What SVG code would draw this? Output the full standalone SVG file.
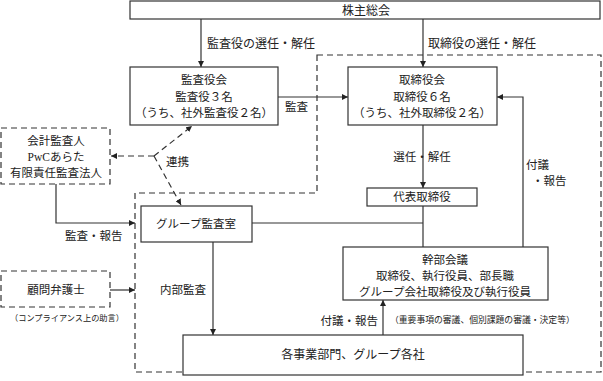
<svg xmlns="http://www.w3.org/2000/svg" width="603" height="381" viewBox="0 0 603 381">
<style>
.box{fill:#fff;stroke:#333;stroke-width:1.2}
.dbox{fill:#fff;stroke:#333;stroke-width:1.2;stroke-dasharray:6,4}
.ln{fill:none;stroke:#333;stroke-width:1.2}
.dl{fill:none;stroke:#333;stroke-width:1.2;stroke-dasharray:6,4}
text{font-family:"Liberation Serif","Noto Sans CJK JP",serif;font-size:11.5px;fill:#222}
.c{text-anchor:middle}
.s{font-size:8.8px}
.s2{font-size:8.2px}
.t{font-size:12px}
</style>
<defs>
<marker id="ah" viewBox="0 0 10 10" refX="10" refY="5" markerWidth="6" markerHeight="6" orient="auto" markerUnits="userSpaceOnUse">
<path d="M0,0 L10,5 L0,10 z" fill="#222"/>
</marker>
</defs>
<rect width="603" height="381" fill="#fff"/>
<g id="boundary">
<path class="dl" d="M317,55 H601 V372 H135 V193 H317 Z"/>
</g>
<g id="connectors">
<line class="ln" x1="201" y1="19" x2="201" y2="67" marker-end="url(#ah)"/>
<line class="ln" x1="423" y1="19" x2="423" y2="67" marker-end="url(#ah)"/>
<line class="ln" x1="278" y1="97" x2="348" y2="97" marker-end="url(#ah)"/>
<line class="ln" x1="423" y1="125" x2="423" y2="188" marker-end="url(#ah)"/>
<polyline class="ln" points="523,247 523,97 497,97" marker-end="url(#ah)"/>
<line class="ln" x1="423" y1="206" x2="423" y2="247"/>
<line class="ln" x1="252" y1="223" x2="423" y2="223"/>
<line class="ln" x1="213" y1="242" x2="213" y2="335" marker-end="url(#ah)"/>
<line class="ln" x1="383" y1="335" x2="383" y2="300" marker-end="url(#ah)"/>
<polyline class="ln" points="56,184 56,223 135,223" marker-end="url(#ah)"/>
<line class="ln" x1="110" y1="290" x2="135" y2="290" marker-end="url(#ah)"/>
<line class="dl" x1="154" y1="156" x2="192" y2="126" marker-end="url(#ah)"/>
<line class="dl" x1="154" y1="156" x2="111" y2="156" marker-end="url(#ah)"/>
<line class="dl" x1="154" y1="156" x2="181" y2="205" marker-end="url(#ah)"/>
<text x="207" y="48" class="t">監査役の選任・解任</text>
<text x="428" y="48" class="t">取締役の選任・解任</text>
<text x="285" y="111">監査</text>
<text x="422" y="161" class="c">選任・解任</text>
<text x="526" y="169">付議</text>
<text x="532" y="185">・報告</text>
<text x="166" y="166">連携</text>
<text x="65" y="240">監査・報告</text>
<text x="160" y="294">内部監査</text>
<text x="378" y="325" style="text-anchor:end">付議・報告</text>
<text x="390" y="323" class="s">（重要事項の審議、個別課題の審議・決定等）</text>
<text x="10" y="321" class="s2">（コンプライアンス上の助言）</text>
</g>
<g id="shareholders">
<rect class="box" x="130" y="1" width="470" height="18"/>
<text x="366" y="14.5" class="c t">株主総会</text>
</g>
<g id="kansayakukai">
<rect class="box" x="130" y="67" width="148" height="58"/>
<text x="204" y="84" class="c">監査役会</text>
<text x="204" y="101" class="c">監査役３名</text>
<text x="204" y="117" class="c">（うち、社外監査役２名）</text>
</g>
<g id="torishimariyakukai">
<rect class="box" x="348" y="67" width="149" height="58"/>
<text x="422" y="84" class="c">取締役会</text>
<text x="422" y="101" class="c">取締役６名</text>
<text x="422" y="117" class="c">（うち、社外取締役２名）</text>
</g>
<g id="daihyo">
<rect class="box" x="367" y="188" width="110" height="18"/>
<text x="422" y="201" class="c">代表取締役</text>
</g>
<g id="kaikei">
<rect class="dbox" x="1" y="128" width="109" height="56"/>
<text x="56" y="145" class="c">会計監査人</text>
<text x="56" y="161" class="c">PwCあらた</text>
<text x="56" y="177" class="c">有限責任監査法人</text>
</g>
<g id="groupkansa">
<rect class="box" x="141" y="206" width="111" height="36"/>
<text x="196" y="228" class="c">グループ監査室</text>
</g>
<g id="komon">
<rect class="dbox" x="1" y="271" width="109" height="36"/>
<text x="56" y="294" class="c">顧問弁護士</text>
</g>
<g id="kanbu">
<rect class="box" x="343" y="247" width="205" height="53"/>
<text x="445" y="264" class="c">幹部会議</text>
<text x="445" y="280" class="c">取締役、執行役員、部長職</text>
<text x="445" y="296" class="c">グループ会社取締役及び執行役員</text>
</g>
<g id="jigyo">
<rect class="box" x="183" y="335" width="340" height="40"/>
<text x="353" y="359" class="c t">各事業部門、グループ各社</text>
</g>
</svg>
